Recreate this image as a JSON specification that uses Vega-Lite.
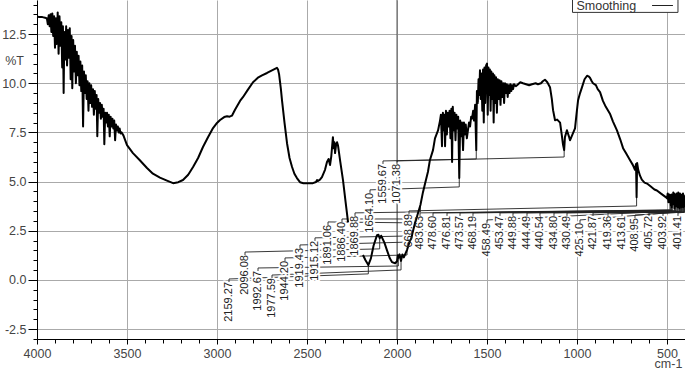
{
"$schema": "https://vega.github.io/schema/vega-lite/v6.json",
"width": 648, "height": 339,
"autosize": "none",
"padding": {"left": 37, "top": 0, "right": 0, "bottom": 30},
"background": "white",
"config": {"view": {"stroke": null}, "axis": {"labelFont": "Liberation Sans", "titleFont": "Liberation Sans"}},
"datasets": {
"sp": [
{"g":1,"wn":4000,"t":13.38},{"g":1,"wn":3985,"t":13.37},{"g":1,"wn":3970,"t":13.36},{"g":1,"wn":3955,"t":13.33},{"g":1,"wn":3948,"t":13.3},
{"g":1,"wn":3945,"t":13.3},{"g":1,"wn":3940,"t":13.0},{"g":1,"wn":3935,"t":13.45},{"g":1,"wn":3930,"t":12.9},{"g":1,"wn":3925,"t":13.5},{"g":1,"wn":3920,"t":12.6},{"g":1,"wn":3915,"t":13.55},{"g":1,"wn":3910,"t":12.4},{"g":1,"wn":3905,"t":13.4},{"g":1,"wn":3900,"t":11.8},{"g":1,"wn":3895,"t":13.3},{"g":1,"wn":3890,"t":12.0},{"g":1,"wn":3885,"t":13.6},{"g":1,"wn":3880,"t":11.5},{"g":1,"wn":3875,"t":13.4},{"g":1,"wn":3870,"t":11.9},{"g":1,"wn":3865,"t":13.1},{"g":1,"wn":3860,"t":10.8},{"g":1,"wn":3856,"t":12.9},{"g":1,"wn":3852,"t":9.5},{"g":1,"wn":3848,"t":12.6},{"g":1,"wn":3843,"t":11.2},{"g":1,"wn":3838,"t":12.9},{"g":1,"wn":3833,"t":10.9},{"g":1,"wn":3828,"t":12.7},{"g":1,"wn":3823,"t":11.3},{"g":1,"wn":3818,"t":12.8},{"g":1,"wn":3813,"t":10.2},{"g":1,"wn":3808,"t":12.4},{"g":1,"wn":3804,"t":9.75},{"g":1,"wn":3799,"t":12.2},{"g":1,"wn":3794,"t":10.6},{"g":1,"wn":3789,"t":11.9},{"g":1,"wn":3784,"t":10.0},{"g":1,"wn":3779,"t":11.6},{"g":1,"wn":3774,"t":10.4},{"g":1,"wn":3769,"t":11.4},{"g":1,"wn":3764,"t":9.9},{"g":1,"wn":3759,"t":11.1},{"g":1,"wn":3754,"t":9.6},{"g":1,"wn":3749,"t":10.9},{"g":1,"wn":3744,"t":7.8},{"g":1,"wn":3739,"t":10.6},{"g":1,"wn":3734,"t":9.5},{"g":1,"wn":3729,"t":10.4},{"g":1,"wn":3724,"t":9.2},{"g":1,"wn":3719,"t":10.1},{"g":1,"wn":3714,"t":8.6},{"g":1,"wn":3709,"t":10.0},{"g":1,"wn":3704,"t":9.0},{"g":1,"wn":3699,"t":9.9},{"g":1,"wn":3694,"t":8.8},{"g":1,"wn":3689,"t":9.7},{"g":1,"wn":3684,"t":8.4},{"g":1,"wn":3679,"t":9.6},{"g":1,"wn":3674,"t":8.7},{"g":1,"wn":3669,"t":9.4},{"g":1,"wn":3665,"t":7.3},{"g":1,"wn":3660,"t":9.2},{"g":1,"wn":3655,"t":8.5},{"g":1,"wn":3650,"t":9.0},{"g":1,"wn":3645,"t":8.2},{"g":1,"wn":3640,"t":8.9},{"g":1,"wn":3635,"t":8.3},{"g":1,"wn":3630,"t":8.7},{"g":1,"wn":3626,"t":6.9},{"g":1,"wn":3621,"t":8.5},{"g":1,"wn":3616,"t":8.0},{"g":1,"wn":3611,"t":8.5},{"g":1,"wn":3606,"t":7.8},{"g":1,"wn":3601,"t":8.4},{"g":1,"wn":3596,"t":7.3},{"g":1,"wn":3591,"t":8.3},{"g":1,"wn":3586,"t":7.8},{"g":1,"wn":3581,"t":8.2},{"g":1,"wn":3576,"t":7.7},{"g":1,"wn":3571,"t":8.1},{"g":1,"wn":3566,"t":7.1},{"g":1,"wn":3561,"t":7.9},{"g":1,"wn":3556,"t":7.6},{"g":1,"wn":3551,"t":7.8},{"g":1,"wn":3546,"t":7.5},{"g":1,"wn":3541,"t":7.7},{"g":1,"wn":3536,"t":7.45},{"g":1,"wn":3530,"t":7.5},{"g":1,"wn":3520,"t":7.35},
{"g":1,"wn":3500,"t":6.85},{"g":1,"wn":3467,"t":6.45},{"g":1,"wn":3430,"t":6.1},{"g":1,"wn":3389,"t":5.69},{"g":1,"wn":3356,"t":5.4},{"g":1,"wn":3317,"t":5.2},{"g":1,"wn":3278,"t":5.05},{"g":1,"wn":3244,"t":4.92},{"g":1,"wn":3215,"t":4.97},{"g":1,"wn":3189,"t":5.08},{"g":1,"wn":3160,"t":5.35},{"g":1,"wn":3133,"t":5.74},{"g":1,"wn":3105,"t":6.2},{"g":1,"wn":3078,"t":6.76},{"g":1,"wn":3050,"t":7.25},{"g":1,"wn":3022,"t":7.72},{"g":1,"wn":3000,"t":7.98},{"g":1,"wn":2983,"t":8.13},{"g":1,"wn":2960,"t":8.28},{"g":1,"wn":2944,"t":8.32},{"g":1,"wn":2930,"t":8.3},{"g":1,"wn":2917,"t":8.35},{"g":1,"wn":2900,"t":8.65},{"g":1,"wn":2872,"t":9.1},{"g":1,"wn":2856,"t":9.29},{"g":1,"wn":2830,"t":9.65},{"g":1,"wn":2800,"t":10.05},{"g":1,"wn":2770,"t":10.3},{"g":1,"wn":2750,"t":10.4},{"g":1,"wn":2722,"t":10.52},{"g":1,"wn":2700,"t":10.63},{"g":1,"wn":2667,"t":10.78},{"g":1,"wn":2661,"t":10.7},{"g":1,"wn":2655,"t":10.45},{"g":1,"wn":2645,"t":9.7},{"g":1,"wn":2639,"t":9.14},{"g":1,"wn":2625,"t":8.0},{"g":1,"wn":2611,"t":6.95},{"g":1,"wn":2597,"t":6.2},{"g":1,"wn":2583,"t":5.74},{"g":1,"wn":2570,"t":5.4},{"g":1,"wn":2556,"t":5.18},{"g":1,"wn":2539,"t":4.97},{"g":1,"wn":2520,"t":4.92},{"g":1,"wn":2500,"t":4.92},{"g":1,"wn":2467,"t":4.92},{"g":1,"wn":2450,"t":4.98},{"g":1,"wn":2444,"t":5.08},{"g":1,"wn":2439,"t":5.03},{"g":1,"wn":2428,"t":5.1},{"g":1,"wn":2417,"t":5.23},{"g":1,"wn":2400,"t":5.6},{"g":1,"wn":2389,"t":6.0},{"g":1,"wn":2380,"t":6.15},{"g":1,"wn":2372,"t":5.84},{"g":1,"wn":2365,"t":6.3},{"g":1,"wn":2356,"t":7.26},{"g":1,"wn":2352,"t":6.7},{"g":1,"wn":2348,"t":7.0},{"g":1,"wn":2344,"t":6.45},{"g":1,"wn":2338,"t":6.9},{"g":1,"wn":2333,"t":7.0},{"g":1,"wn":2328,"t":6.85},{"g":1,"wn":2315,"t":6.0},{"g":1,"wn":2300,"t":5.08},{"g":1,"wn":2286,"t":4.0},{"g":1,"wn":2272,"t":2.94},
{"g":2,"wn":2189,"t":1.27},{"g":2,"wn":2175,"t":1.0},{"g":2,"wn":2159.27,"t":0.76},{"g":2,"wn":2145,"t":1.1},{"g":2,"wn":2130,"t":1.75},{"g":2,"wn":2111,"t":2.28},{"g":2,"wn":2103,"t":2.3},{"g":2,"wn":2096.08,"t":2.12},{"g":2,"wn":2088,"t":2.25},{"g":2,"wn":2070,"t":1.9},{"g":2,"wn":2056,"t":1.52},{"g":2,"wn":2040,"t":1.1},{"g":2,"wn":2028,"t":0.91},{"g":2,"wn":2010,"t":0.85},{"g":2,"wn":2000,"t":0.95},{"g":2,"wn":1995,"t":1.25},{"g":2,"wn":1992.67,"t":1.12},{"g":2,"wn":1986,"t":1.3},{"g":2,"wn":1980,"t":1.05},{"g":2,"wn":1977.59,"t":0.97},{"g":2,"wn":1970,"t":1.3},{"g":2,"wn":1962,"t":1.15},{"g":2,"wn":1955,"t":1.3},{"g":2,"wn":1944.2,"t":1.53},{"g":2,"wn":1930,"t":1.95},{"g":2,"wn":1919.43,"t":2.14},{"g":2,"wn":1915.12,"t":2.34},{"g":2,"wn":1900,"t":2.9},{"g":2,"wn":1891.06,"t":3.15},{"g":2,"wn":1886.4,"t":3.3},{"g":2,"wn":1869.88,"t":3.81},{"g":2,"wn":1856,"t":4.45},{"g":2,"wn":1844,"t":4.9},{"g":2,"wn":1828,"t":5.5},{"g":2,"wn":1817,"t":6.1},{"g":2,"wn":1800,"t":6.6},{"g":2,"wn":1789,"t":7.2},{"g":2,"wn":1772,"t":7.6},{"g":2,"wn":1761,"t":8.1},
{"g":2,"wn":1756,"t":8.4},{"g":2,"wn":1750,"t":6.8},{"g":2,"wn":1745,"t":8.5},{"g":2,"wn":1740,"t":7.6},{"g":2,"wn":1735,"t":8.4},{"g":2,"wn":1733,"t":6.8},{"g":2,"wn":1728,"t":8.6},{"g":2,"wn":1723,"t":7.4},{"g":2,"wn":1718,"t":8.5},{"g":2,"wn":1713,"t":7.8},{"g":2,"wn":1708,"t":8.6},{"g":2,"wn":1703,"t":7.2},{"g":2,"wn":1698,"t":8.7},{"g":2,"wn":1694,"t":6.0},{"g":2,"wn":1690,"t":8.8},{"g":2,"wn":1685,"t":7.6},{"g":2,"wn":1680,"t":8.5},{"g":2,"wn":1675,"t":7.1},{"g":2,"wn":1670,"t":8.4},{"g":2,"wn":1665,"t":7.7},{"g":2,"wn":1660,"t":8.3},{"g":2,"wn":1654.1,"t":5.18},{"g":2,"wn":1649,"t":8.1},{"g":2,"wn":1644,"t":7.3},{"g":2,"wn":1639,"t":8.0},{"g":2,"wn":1633,"t":6.6},{"g":2,"wn":1628,"t":8.0},{"g":2,"wn":1623,"t":7.4},{"g":2,"wn":1618,"t":7.9},{"g":2,"wn":1612,"t":7.2},{"g":2,"wn":1606,"t":7.6},{"g":2,"wn":1600,"t":8.0},{"g":2,"wn":1594,"t":7.8},{"g":2,"wn":1588,"t":8.3},{"g":2,"wn":1583,"t":8.2},{"g":2,"wn":1577,"t":8.6},{"g":2,"wn":1572,"t":8.1},{"g":2,"wn":1566,"t":8.9},{"g":2,"wn":1559.67,"t":6.6},{"g":2,"wn":1556,"t":9.6},{"g":2,"wn":1551,"t":9.0},{"g":2,"wn":1547,"t":10.2},{"g":2,"wn":1543,"t":9.4},{"g":2,"wn":1539,"t":10.66},{"g":2,"wn":1535,"t":9.2},{"g":2,"wn":1531,"t":10.5},{"g":2,"wn":1526,"t":8.6},{"g":2,"wn":1522,"t":10.7},{"g":2,"wn":1518,"t":8.0},{"g":2,"wn":1514,"t":10.8},{"g":2,"wn":1510,"t":9.0},{"g":2,"wn":1505,"t":10.9},{"g":2,"wn":1500,"t":11.0},{"g":2,"wn":1496,"t":8.4},{"g":2,"wn":1492,"t":10.8},{"g":2,"wn":1488,"t":9.4},{"g":2,"wn":1484,"t":10.7},{"g":2,"wn":1480,"t":8.6},{"g":2,"wn":1476,"t":10.6},{"g":2,"wn":1472,"t":9.2},{"g":2,"wn":1467,"t":10.5},{"g":2,"wn":1463,"t":8.0},{"g":2,"wn":1459,"t":10.4},{"g":2,"wn":1455,"t":9.0},{"g":2,"wn":1450,"t":10.3},{"g":2,"wn":1445,"t":8.5},{"g":2,"wn":1440,"t":10.2},{"g":2,"wn":1435,"t":9.2},{"g":2,"wn":1430,"t":10.15},{"g":2,"wn":1425,"t":8.9},{"g":2,"wn":1420,"t":10.1},{"g":2,"wn":1415,"t":9.3},{"g":2,"wn":1410,"t":10.0},{"g":2,"wn":1405,"t":9.0},{"g":2,"wn":1400,"t":10.0},{"g":2,"wn":1395,"t":9.5},{"g":2,"wn":1390,"t":9.95},{"g":2,"wn":1385,"t":9.3},{"g":2,"wn":1380,"t":9.9},{"g":2,"wn":1375,"t":9.5},{"g":2,"wn":1370,"t":9.95},{"g":2,"wn":1365,"t":9.6},{"g":2,"wn":1360,"t":9.9},{"g":2,"wn":1355,"t":9.7},{"g":2,"wn":1350,"t":9.95},
{"g":2,"wn":1340,"t":9.85},{"g":2,"wn":1333,"t":9.9},{"g":2,"wn":1315,"t":10.05},{"g":2,"wn":1300,"t":10.0},{"g":2,"wn":1283,"t":9.95},{"g":2,"wn":1266,"t":9.9},{"g":2,"wn":1250,"t":9.95},{"g":2,"wn":1230,"t":10.0},{"g":2,"wn":1217,"t":9.95},{"g":2,"wn":1200,"t":10.0},{"g":2,"wn":1190,"t":10.1},{"g":2,"wn":1178,"t":10.18},{"g":2,"wn":1165,"t":10.05},{"g":2,"wn":1150,"t":9.8},{"g":2,"wn":1140,"t":9.2},{"g":2,"wn":1133,"t":8.63},{"g":2,"wn":1122,"t":8.12},{"g":2,"wn":1110,"t":8.15},{"g":2,"wn":1094,"t":8.0},{"g":2,"wn":1085,"t":7.4},{"g":2,"wn":1078,"t":6.9},{"g":2,"wn":1071.38,"t":6.6},{"g":2,"wn":1067,"t":7.26},{"g":2,"wn":1056,"t":7.61},{"g":2,"wn":1045,"t":7.3},{"g":2,"wn":1039,"t":7.1},{"g":2,"wn":1025,"t":7.4},{"g":2,"wn":1011,"t":7.7},{"g":2,"wn":1003,"t":8.4},{"g":2,"wn":994,"t":9.14},{"g":2,"wn":983,"t":9.5},{"g":2,"wn":972,"t":9.8},{"g":2,"wn":958,"t":10.2},{"g":2,"wn":944,"t":10.38},{"g":2,"wn":936,"t":10.35},{"g":2,"wn":928,"t":10.28},{"g":2,"wn":918,"t":10.1},{"g":2,"wn":911,"t":10.0},{"g":2,"wn":895,"t":9.9},{"g":2,"wn":885,"t":9.7},{"g":2,"wn":872,"t":9.55},{"g":2,"wn":856,"t":9.1},{"g":2,"wn":840,"t":8.8},{"g":2,"wn":817,"t":8.45},{"g":2,"wn":800,"t":8.05},{"g":2,"wn":778,"t":7.6},{"g":2,"wn":760,"t":7.15},{"g":2,"wn":744,"t":6.7},{"g":2,"wn":725,"t":6.4},{"g":2,"wn":706,"t":6.1},{"g":2,"wn":690,"t":5.85},{"g":2,"wn":678,"t":5.6},{"g":2,"wn":672,"t":5.9},{"g":2,"wn":668.89,"t":4.2},{"g":2,"wn":666,"t":5.95},{"g":2,"wn":660,"t":5.6},{"g":2,"wn":650,"t":5.3},{"g":2,"wn":640,"t":5.1},{"g":2,"wn":625,"t":4.95},{"g":2,"wn":611,"t":4.9},{"g":2,"wn":590,"t":4.75},{"g":2,"wn":570,"t":4.6},{"g":2,"wn":556,"t":4.55},{"g":2,"wn":535,"t":4.4},{"g":2,"wn":520,"t":4.3},
{"g":2,"wn":505,"t":4.2},{"g":2,"wn":500,"t":4.15},{"g":2,"wn":496,"t":4.4},{"g":2,"wn":492,"t":3.95},{"g":2,"wn":488,"t":4.35},{"g":2,"wn":483.63,"t":3.95},{"g":2,"wn":481,"t":4.3},{"g":2,"wn":478.6,"t":3.8},{"g":2,"wn":477.5,"t":4.2},{"g":2,"wn":476.81,"t":3.9},{"g":2,"wn":475,"t":4.35},{"g":2,"wn":473.57,"t":3.7},{"g":2,"wn":471,"t":4.3},{"g":2,"wn":468.19,"t":3.85},{"g":2,"wn":465,"t":4.45},{"g":2,"wn":462,"t":4.0},{"g":2,"wn":460,"t":4.4},{"g":2,"wn":458.49,"t":3.65},{"g":2,"wn":456,"t":4.3},{"g":2,"wn":453.47,"t":3.9},{"g":2,"wn":451.5,"t":4.35},{"g":2,"wn":449.88,"t":3.75},{"g":2,"wn":447,"t":4.4},{"g":2,"wn":444.49,"t":3.85},{"g":2,"wn":442.5,"t":4.3},{"g":2,"wn":440.54,"t":3.7},{"g":2,"wn":437.5,"t":4.45},{"g":2,"wn":434.8,"t":3.8},{"g":2,"wn":432.5,"t":4.3},{"g":2,"wn":430.49,"t":3.65},{"g":2,"wn":428,"t":4.4},{"g":2,"wn":425.1,"t":3.75},{"g":2,"wn":423.5,"t":4.2},{"g":2,"wn":421.87,"t":3.9},{"g":2,"wn":420.5,"t":4.3},{"g":2,"wn":419.36,"t":3.7},{"g":2,"wn":416.5,"t":4.35},{"g":2,"wn":413.61,"t":3.85},{"g":2,"wn":411,"t":4.4},{"g":2,"wn":408.95,"t":3.7},{"g":2,"wn":407,"t":4.3},{"g":2,"wn":405.72,"t":3.9},{"g":2,"wn":404.8,"t":4.2},{"g":2,"wn":403.92,"t":3.75},{"g":2,"wn":402.6,"t":4.25},{"g":2,"wn":401.41,"t":3.8},{"g":2,"wn":400,"t":4.1}
],
"pk": [
{"label":"2159.27","lx":2933.3,"lt":0.05,"px":2159.27,"hy":0.31,"py":0.76},
{"label":"2096.08","lx":2844.4,"lt":1.42,"px":2096.08,"hy":1.58,"py":2.12},
{"label":"1992.67","lx":2772.2,"lt":0.61,"px":1992.67,"hy":0.71,"py":1.12},
{"label":"1977.59","lx":2694.4,"lt":0.25,"px":1977.59,"hy":0.51,"py":0.97},
{"label":"1944.20","lx":2622.2,"lt":1.12,"px":1944.2,"hy":1.27,"py":1.53},
{"label":"1919.43","lx":2538.9,"lt":1.78,"px":1919.43,"hy":1.93,"py":2.14},
{"label":"1915.12","lx":2455.6,"lt":2.14,"px":1915.12,"hy":2.24,"py":2.34},
{"label":"1891.06","lx":2383.3,"lt":2.95,"px":1891.06,"hy":2.9,"py":3.15},
{"label":"1886.40","lx":2305.6,"lt":3.1,"px":1886.4,"hy":3.1,"py":3.3},
{"label":"1869.88","lx":2233.3,"lt":3.41,"px":1869.88,"hy":3.46,"py":3.81},
{"label":"1654.10","lx":2150,"lt":4.58,"px":1654.1,"hy":4.73,"py":5.18},
{"label":"1559.67","lx":2077.8,"lt":6.05,"px":1559.67,"hy":6.15,"py":6.6},
{"label":"1071.38","lx":2000,"lt":6.05,"px":1071.38,"hy":6.25,"py":6.6},
{"label":"668.89","lx":1933.3,"lt":3.51,"px":668.89,"hy":3.76,"py":4.2},
{"label":"483.63","lx":1872.2,"lt":3.41,"px":483.63,"hy":3.56,"py":3.95},
{"label":"478.60","lx":1800,"lt":3.41,"px":478.6,"hy":3.55,"py":3.8},
{"label":"476.81","lx":1722.2,"lt":3.41,"px":476.81,"hy":3.54,"py":3.9},
{"label":"473.57","lx":1650,"lt":3.41,"px":473.57,"hy":3.53,"py":3.7},
{"label":"468.19","lx":1577.8,"lt":3.41,"px":468.19,"hy":3.52,"py":3.85},
{"label":"458.49","lx":1500,"lt":3.05,"px":458.49,"hy":3.51,"py":3.65},
{"label":"453.47","lx":1427.8,"lt":3.41,"px":453.47,"hy":3.5,"py":3.9},
{"label":"449.88","lx":1355.6,"lt":3.41,"px":449.88,"hy":3.5,"py":3.75},
{"label":"444.49","lx":1277.8,"lt":3.41,"px":444.49,"hy":3.49,"py":3.85},
{"label":"440.54","lx":1205.6,"lt":3.41,"px":440.54,"hy":3.49,"py":3.7},
{"label":"434.80","lx":1127.8,"lt":3.41,"px":434.8,"hy":3.48,"py":3.8},
{"label":"430.49","lx":1055.6,"lt":3.41,"px":430.49,"hy":3.48,"py":3.65},
{"label":"425.10","lx":983.3,"lt":3.05,"px":425.1,"hy":3.47,"py":3.75},
{"label":"421.87","lx":911.1,"lt":3.41,"px":421.87,"hy":3.47,"py":3.9},
{"label":"419.36","lx":827.8,"lt":3.41,"px":419.36,"hy":3.46,"py":3.7},
{"label":"413.61","lx":750,"lt":3.41,"px":413.61,"hy":3.46,"py":3.85},
{"label":"408.95","lx":677.8,"lt":3.3,"px":408.95,"hy":3.45,"py":3.7},
{"label":"405.72","lx":600,"lt":3.41,"px":405.72,"hy":3.45,"py":3.9},
{"label":"403.92","lx":522.2,"lt":3.41,"px":403.92,"hy":3.44,"py":3.75},
{"label":"401.41","lx":438.9,"lt":3.41,"px":401.41,"hy":3.44,"py":3.8}
]
},
"resolve": {"axis": {"x": "independent", "y": "independent"}},
"layer": [
{
"data": {"name": "sp"},
"mark": {"type": "point", "opacity": 0},
"encoding": {
"x": {"field": "wn", "type": "quantitative", "scale": {"domain": [4000, 400], "nice": false, "zero": false},
"axis": {"orient": "bottom", "values": [4000, 3500, 3000, 2500, 2000, 1500, 1000, 500], "format": "d", "labelFontSize": 12.5, "labelColor": "#444", "labelPadding": 3, "labelFlush": false, "labelOverlap": false, "tickSize": 5, "tickColor": "#000", "domainColor": "#000", "grid": true, "gridColor": "#aaa", "gridWidth": 1, "title": "cm-1", "titleX": 631, "titleY": 24, "titleAlign": "center", "titleBaseline": "middle", "titleFontWeight": "normal", "titleFontSize": 12.5, "titleColor": "#444"}},
"y": {"field": "t", "type": "quantitative", "scale": {"domain": [-3, 14.23], "nice": false, "zero": false},
"axis": {"orient": "left", "values": [-2.5, 0, 2.5, 5, 7.5, 10, 12.5], "labelExpr": "datum.value < 0 ? '-' + format(-datum.value, '.1f') : format(datum.value, '.1f')", "labelFontSize": 12.5, "labelColor": "#444", "labelPadding": 2, "tickSize": 9, "tickColor": "#000", "domainColor": "#000", "grid": true, "gridColor": "#aaa", "gridWidth": 1, "title": "%T", "titleAngle": 0, "titleX": -23, "titleY": 60, "titleAlign": "center", "titleBaseline": "middle", "titleFontWeight": "normal", "titleFontSize": 12.5, "titleColor": "#444"}}
}
},
{
"data": {"name": "sp"},
"mark": {"type": "point", "opacity": 0},
"encoding": {
"x": {"field": "wn", "type": "quantitative", "scale": {"domain": [4000, 400], "nice": false, "zero": false},
"axis": {"orient": "bottom", "values": [3900,3800,3700,3600,3400,3300,3200,3100,2900,2800,2700,2600,2400,2300,2200,2100,1900,1800,1700,1600,1400,1300,1200,1100,900,800,700,600,400], "labels": false, "domain": false, "grid": false, "tickSize": 4, "tickColor": "#000", "title": null}},
"y": {"field": "t", "type": "quantitative", "scale": {"domain": [-3, 14.23], "nice": false, "zero": false},
"axis": {"orient": "left", "values": [-3,-2,-1.5,-1,-0.5,0.5,1,1.5,2,3,3.5,4,4.5,5.5,6,6.5,7,8,8.5,9,9.5,10.5,11,11.5,12,13,13.5,14], "labels": false, "domain": false, "grid": false, "tickSize": 4, "tickColor": "#000", "title": null}}
}
},
{
"data": {"values": [{"wn": 2000}]},
"mark": {"type": "rule", "color": "#555", "strokeWidth": 1},
"encoding": {"x": {"field": "wn", "type": "quantitative", "scale": {"domain": [4000, 400], "nice": false, "zero": false}, "axis": null}}
},
{
"data": {"name": "pk"},
"mark": {"type": "rule", "color": "#222", "strokeWidth": 0.9},
"encoding": {
"x": {"field": "lx", "type": "quantitative", "scale": {"domain": [4000, 400], "nice": false, "zero": false}, "axis": null},
"y": {"field": "lt", "type": "quantitative", "scale": {"domain": [-3, 14.23], "nice": false, "zero": false}, "axis": null},
"x2": {"field": "px"},
"y2": {"field": "hy"}
}
},
{
"data": {"name": "pk"},
"mark": {"type": "rule", "color": "#222", "strokeWidth": 0.9},
"encoding": {
"x": {"field": "px", "type": "quantitative", "scale": {"domain": [4000, 400], "nice": false, "zero": false}, "axis": null},
"y": {"field": "hy", "type": "quantitative", "scale": {"domain": [-3, 14.23], "nice": false, "zero": false}, "axis": null},
"y2": {"field": "py"}
}
},
{
"data": {"name": "pk"},
"mark": {"type": "text", "angle": 270, "align": "right", "baseline": "middle", "font": "Liberation Sans", "fontSize": 11, "yOffset": 3, "fill": "white", "stroke": "white", "strokeWidth": 4, "strokeJoin": "round"},
"encoding": {
"x": {"field": "lx", "type": "quantitative", "scale": {"domain": [4000, 400], "nice": false, "zero": false}, "axis": null},
"y": {"field": "lt", "type": "quantitative", "scale": {"domain": [-3, 14.23], "nice": false, "zero": false}, "axis": null},
"text": {"field": "label"}
}
},
{
"data": {"name": "pk"},
"mark": {"type": "rule", "color": "#222", "strokeWidth": 0.9, "y2Offset": 3},
"encoding": {
"x": {"field": "lx", "type": "quantitative", "scale": {"domain": [4000, 400], "nice": false, "zero": false}, "axis": null},
"y": {"field": "lt", "type": "quantitative", "scale": {"domain": [-3, 14.23], "nice": false, "zero": false}, "axis": null},
"y2": {"field": "lt"}
}
},
{
"data": {"name": "sp"},
"mark": {"type": "line", "color": "#000", "strokeWidth": 2, "strokeJoin": "round"},
"encoding": {
"x": {"field": "wn", "type": "quantitative", "scale": {"domain": [4000, 400], "nice": false, "zero": false}, "axis": null},
"y": {"field": "t", "type": "quantitative", "scale": {"domain": [-3, 14.23], "nice": false, "zero": false}, "axis": null},
"detail": {"field": "g"}
}
},
{
"data": {"name": "pk"},
"mark": {"type": "text", "angle": 270, "align": "right", "baseline": "middle", "font": "Liberation Sans", "fontSize": 11, "yOffset": 3, "color": "#222"},
"encoding": {
"x": {"field": "lx", "type": "quantitative", "scale": {"domain": [4000, 400], "nice": false, "zero": false}, "axis": null},
"y": {"field": "lt", "type": "quantitative", "scale": {"domain": [-3, 14.23], "nice": false, "zero": false}, "axis": null},
"text": {"field": "label"}
}
},
{
"data": {"values": [{"wn": 1025, "wn2": 439, "t": 14.6, "t2": 13.6}]},
"mark": {"type": "rect", "fill": "white", "stroke": "#333", "strokeWidth": 1},
"encoding": {
"x": {"field": "wn", "type": "quantitative", "scale": {"domain": [4000, 400], "nice": false, "zero": false}, "axis": null},
"x2": {"field": "wn2"},
"y": {"field": "t", "type": "quantitative", "scale": {"domain": [-3, 14.23], "nice": false, "zero": false}, "axis": null},
"y2": {"field": "t2"}
}
},
{
"data": {"values": [{"wn": 1003, "t": 13.7, "name": "Smoothing"}]},
"mark": {"type": "text", "align": "left", "baseline": "alphabetic", "font": "Liberation Sans", "fontSize": 12.5, "color": "#333"},
"encoding": {
"x": {"field": "wn", "type": "quantitative", "scale": {"domain": [4000, 400], "nice": false, "zero": false}, "axis": null},
"y": {"field": "t", "type": "quantitative", "scale": {"domain": [-3, 14.23], "nice": false, "zero": false}, "axis": null},
"text": {"field": "name"}
}
},
{
"data": {"values": [{"wn": 583, "wn2": 467, "t": 13.95}]},
"mark": {"type": "rule", "color": "#222", "strokeWidth": 1},
"encoding": {
"x": {"field": "wn", "type": "quantitative", "scale": {"domain": [4000, 400], "nice": false, "zero": false}, "axis": null},
"x2": {"field": "wn2"},
"y": {"field": "t", "type": "quantitative", "scale": {"domain": [-3, 14.23], "nice": false, "zero": false}, "axis": null}
}
}
]
}
